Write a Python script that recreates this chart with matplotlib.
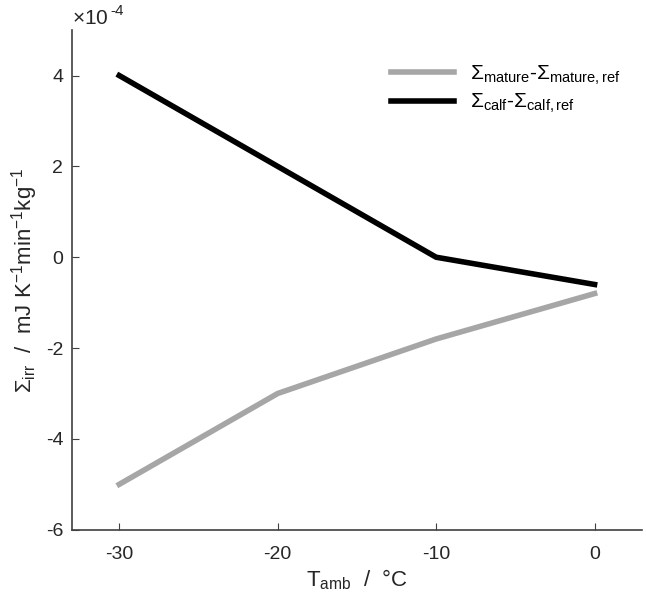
import numpy as np
import matplotlib
matplotlib.use("Agg")
import matplotlib.pyplot as plt

plt.rcParams['font.family'] = ['Liberation Sans', 'DejaVu Sans']
plt.rcParams['mathtext.fontset'] = 'custom'
plt.rcParams['mathtext.rm'] = 'Liberation Sans'
plt.rcParams['mathtext.it'] = 'Liberation Sans'
plt.rcParams['mathtext.default'] = 'regular'
plt.rcParams['axes.unicode_minus'] = False

# data (values in units of 1e-4)
t_amb = [-30, -20, -10, 0]
mature = [-5.0, -3.0, -1.8, -0.8]
calf = [4.0, 2.0, 0.0, -0.6]
yticks = [-6, -4, -2, 0, 2, 4]
xticks = [-30, -20, -10, 0]

fig = plt.figure(figsize=(6.46, 6.02), dpi=100)
ax = fig.add_axes([0.111, 0.12, 0.883, 0.83])

ax.plot(t_amb, mature, color='#a6a6a6', lw=4,
        label=r'$\Sigma_{mature}$-$\Sigma_{mature,ref}$')
ax.plot(t_amb, calf, color='black', lw=4,
        label=r'$\Sigma_{calf}$-$\Sigma_{calf,ref}$')

ax.set_xlim(-33, 3)
ax.set_ylim(-6, 5)
ax.set_xticks(xticks)
ax.set_xticklabels([str(v) for v in xticks])
ax.set_yticks(yticks)
ax.set_yticklabels([str(v) for v in yticks])

axcol = '#404040'
txtcol = '#262626'
for s in ['top', 'right']:
    ax.spines[s].set_visible(False)
for s in ['left', 'bottom']:
    ax.spines[s].set_color(axcol)
    ax.spines[s].set_linewidth(1.2)
ax.tick_params(direction='in', length=5, colors=axcol, labelsize=14,
               labelcolor=txtcol)
ax.tick_params(axis='x', pad=12)
ax.tick_params(axis='y', pad=6)

# exponent label like matlab
ax.text(0.0, 1.005, r'$\times$10', transform=ax.transAxes,
        fontsize=15, color=txtcol, ha='left', va='bottom')
ax.text(0.068, 1.025, '-4', transform=ax.transAxes,
        fontsize=11, color=txtcol, ha='left', va='bottom')

ax.set_xlabel(r'T$_{amb}$  /  °C', fontsize=16, color=txtcol, labelpad=3)
ax.set_ylabel(r'$\Sigma_{irr}$  /  mJ K$^{-1}$min$^{-1}$kg$^{-1}$', fontsize=16,
              color=txtcol)

ax.legend(loc='upper right', frameon=False, fontsize=15, handlelength=3.0,
          bbox_to_anchor=(0.995, 0.97), labelspacing=0.25)

fig.savefig('out.png', dpi=100)
